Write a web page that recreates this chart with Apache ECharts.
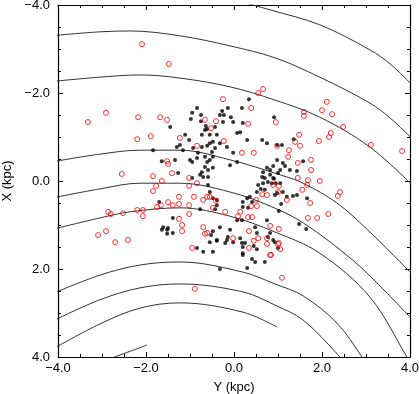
<!DOCTYPE html>
<html>
<head>
<meta charset="utf-8">
<script src="https://cdn.jsdelivr.net/npm/echarts@6/dist/echarts.min.js"></script>
<style>
html,body{margin:0;padding:0;background:#fff;}
#chart{width:419px;height:394px;}
</style>
</head>
<body>
<div id="chart"></div>
<script>
// Axis ticks (kpc)
var xTicks = [-4, -2, 0, 2, 4];
var yTicks = [-4, -2, 0, 2, 4];

// Arcs: [Y (kpc), X (kpc)]
var arc1 = [[0.2,-4.07],[0.43,-4.0],[0.82,-3.89],[1.95,-3.55],[3.09,-2.98],[3.55,-2.66],[4.05,-2.18]];
var arc2 = [[-4.05,-3.31],[-3.05,-3.39],[-2.36,-3.41],[-1.23,-3.30],[-0.09,-3.07],[0.93,-2.80],[1.95,-2.36],[3.09,-1.77],[3.55,-1.43],[4.05,-0.96]];
var arc3 = [[-4.05,-2.27],[-3.05,-2.36],[-2.14,-2.41],[-1.23,-2.34],[-0.09,-2.14],[0.93,-1.84],[1.95,-1.45],[3.09,-0.77],[4.05,0.09]];
var arc4 = [[-4.05,-0.45],[-3.05,-0.61],[-2.14,-0.70],[-1.23,-0.70],[-0.09,-0.48],[1.05,-0.14],[1.57,0.05],[2.34,0.5],[3.09,1.16],[4.05,2.12]];
var arc5 = [[-4.05,0.37],[-3.05,0.18],[-2.14,0.05],[-1.23,0.05],[-0.09,0.25],[0.82,0.57],[1.57,0.95],[2.70,1.80],[3.48,2.55],[4.05,3.15]];
var arc6 = [[-4.05,1.08],[-3.05,0.84],[-2.36,0.70],[-1.23,0.61],[-0.09,0.80],[0.93,1.16],[1.95,1.64],[3.09,2.64],[3.93,4.0],[3.98,4.1]];
var arc7 = [[-4.05,2.53],[-3.05,2.14],[-2.14,1.91],[-1.23,1.84],[0.20,2.07],[0.93,2.34],[1.57,2.61],[2.34,3.23],[2.91,4.0],[2.95,4.1]];
var arc8 = [[-4.05,3.15],[-3.05,2.70],[-2.14,2.43],[-1.23,2.34],[0.20,2.52],[0.93,2.82],[1.57,3.16],[2.41,4.0],[2.46,4.1]];
var arc9 = [[-4.05,3.78],[-3.05,3.25],[-2.14,2.89],[-1.23,2.77],[0.20,2.98],[0.98,3.32]];
var arc10 = [[-2.77,4.02],[-1.98,3.73]];

// Open red circles: [Y, X]
var redPoints = [
[-3.32,-1.34],[-2.91,-1.55],[-2.18,-1.45],[-2.09,-3.11],[-1.48,-2.66],[-1.68,-1.45],[-1.52,-1.39],
[-0.25,-1.86],[0.55,-2.0],[0.66,-2.09],[0.39,-1.66],[-0.66,-1.39],[-0.41,-1.36],[-0.52,-1.20],
[0.32,-1.30],[0.95,-1.34],[2.11,-1.80],[2.0,-1.61],[2.23,-1.52],[1.59,-1.57],[1.59,-1.48],
[2.48,-1.23],[3.11,-0.82],[3.82,-0.68],[2.20,-1.09],[2.16,-1.0],[1.93,-0.91],[1.48,-1.05],
[1.39,-0.89],[1.5,-0.80],[1.25,-0.70],[1.23,-0.55],[1.75,-0.48],[1.45,-0.41],[1.75,-0.25],
[1.45,-0.07],[1.68,-0.02],[1.95,0],[1.66,0.09],[1.55,0.20],[0.89,0.09],[1.02,0.11],[1.0,0.25],
[1.20,0.43],[2.41,0.25],[2.36,0.34],[1.73,0.5],[1.68,0.84],[1.89,0.84],[2.14,0.75],[0.82,1.02],
[1.02,1.09],[1.0,1.43],[1.05,1.55],[0.84,1.68],[1.09,2.20],[-2.20,-0.95],[-1.89,-1.02],
[-1.23,-0.98],[-0.84,-0.80],[-1.52,-0.45],[-1.5,-0.39],[-1.84,-0.11],[-1.41,-0.18],[-1.64,0],
[-1.77,0.11],[-1.84,0.23],[-1.02,-0.07],[-1.02,0.11],[-0.84,0.05],[-0.23,-0.91],[0.18,-0.64],
[0.45,-0.64],[0.98,-0.80],[-0.91,0.36],[-1.25,0.36],[-1.5,0.48],[-1.39,0.55],[-1.25,0.52],
[-1.66,0.55],[-1.75,0.59],[-2.20,0.66],[-2.07,0.66],[-2.07,0.80],[-1.02,0.55],[-0.70,0.43],
[-0.61,0.36],[-0.55,0.36],[-0.41,0.45],[-0.48,0.61],[-0.20,0.70],[0.14,0.70],[0.39,0.57],
[0.52,0.57],[0.5,0.43],[0.64,0.30],[0.75,0.32],[0.09,0.80],[0.32,0.82],[0.41,0.82],[-1.25,0.86],
[-1.02,0.75],[-1.18,1.0],[-1.18,1.14],[-0.70,1.05],[-0.61,1.18],[-0.02,1.30],[0.34,1.52],
[0.55,1.30],[0.75,1.30],[1.02,1.41],[-0.95,1.52],[-0.66,1.20],[0.34,1.14],[0.45,1.36],
[0.75,1.43],[0.82,1.68],[-0.89,2.45],[-2.55,-0.16],[-2.86,0.70],[-2.80,0.75],[-2.52,0.73],
[-3.09,1.23],[-2.91,1.14],[-2.70,1.39],[-2.41,1.34]
];

// Filled black dots: [Y, X]
var blackPoints = [
[0.34,-1.86],[-0.84,-1.66],[-0.95,-1.55],[-0.75,-1.5],[-0.14,-1.66],[-0.27,-1.59],[-0.32,-1.5],
[-0.23,-1.5],[0.18,-1.66],[0.91,-1.45],[-0.07,-1.45],[-0.98,-1.41],[-0.75,-1.36],[-0.64,-1.25],
[-0.25,-1.34],[-0.02,-1.34],[0.20,-1.32],[-1.45,-1.23],[-0.61,-1.18],[-0.43,-1.23],[-0.66,-1.16],
[-0.73,-1.05],[-0.55,-1.05],[-0.39,-1.05],[0.07,-1.09],[0.14,-1.11],[0.75,-0.86],[0.64,-0.93],
[0.30,-0.93],[-1.11,-1.05],[-1.02,-0.93],[-1.23,-0.82],[-1.30,-0.77],[-1.16,-0.70],[-0.93,-0.75],
[-0.82,-0.64],[-0.73,-0.77],[-0.61,-0.80],[-0.55,-0.86],[-0.48,-0.89],[-0.32,-0.86],[-0.43,-0.75],
[-0.5,-0.66],[-0.66,-0.55],[-0.84,-0.52],[-0.95,-0.43],[-0.61,-0.43],[-0.55,-0.48],[-0.48,-0.55],
[-0.66,-0.32],[-0.73,-0.20],[-0.59,-0.25],[-0.48,-0.30],[-0.70,-0.09],[-0.77,-0.14],[-0.59,-0.09],
[-0.59,0.09],[-0.55,0.25],[-1.0,-0.48],[-0.09,-0.36],[0.07,-0.43],[-0.16,-0.77],[-0.02,-0.64],
[-1.34,-0.48],[-1.27,-0.18],[-0.95,-0.07],[-1.64,-0.45],[-1.70,0.48],[-1.84,-0.70],
[0.66,-0.20],[0.75,-0.30],[0.82,-0.25],[0.64,-0.09],[0.70,-0.07],[0.82,-0.14],[0.89,-0.07],
[0.77,0.02],[0.66,0.05],[0.55,0.09],[0.86,0.05],[1.0,-0.18],[0.61,0.18],[0.52,0.25],[0.70,0.20],
[0.30,0.39],[0.36,0.36],[0.41,0.48],[0.20,0.48],[0.20,0.59],[0.32,0.61],[0.18,0.89],[0.07,0.89],
[-0.39,0.43],[-0.48,0.39],[-0.39,0.55],[-0.43,0.64],[-0.77,0.64],[-1.39,0.84],[-1.61,1.05],
[-1.5,1.07],[-1.52,1.11],[-1.64,1.11],[-1.39,1.18],[-0.32,1.05],[-0.09,1.11],[-0.14,1.27],
[-0.16,1.34],[-0.02,1.39],[-0.39,1.34],[-0.52,1.23],[-0.55,1.39],[0.20,1.5],[0.48,1.05],
[0.52,1.18],[0.82,1.18],[1.0,1.52],[0.89,1.34],[0.75,0.89],[-0.84,1.52],
[0.98,-0.82],[1.09,-0.82],[1.36,-0.95],[1.57,-0.45],[0.98,-0.48],[0.89,-0.34],[1.11,-0.41],
[1.16,-0.34],[1.27,-0.25],[1.43,-0.23],[1.05,-0.25],[0.91,-0.05],[0.95,0.05],[1.05,0.05],
[0.98,0.27],[1.11,0.25],[0.93,0.32],[1.20,0.36],[1.34,0.34],[1.43,0.32],[1.66,0.39],[1.07,0.52],
[1.02,0.68],[1.48,0.98],[1.64,1.09],[0.93,1.39],
[-1.52,1.20],[-0.48,1.14],[-0.39,1.36],[-0.20,1.41],[0.14,1.30],[0.18,1.41],[0.25,1.41],
[0.20,1.64],[0.20,1.68],[0.45,1.48],[0.52,1.55],[0.77,1.27],[-0.70,1.61],[-0.48,1.61],
[0.41,1.77],[0.48,1.84],[0.70,1.84],[0.30,1.98],[-0.32,2.0]
];

var FONT = '"Liberation Sans", Arial, Helvetica, sans-serif';
function fmt(v) {
  var s = Math.abs(v).toFixed(1);
  return (v < 0 ? '\u2212' : '') + s;
}

var chart = echarts.init(document.getElementById('chart'), null, {renderer: 'canvas'});

function arcSeries(d) {
  return {
    type: 'line', data: d, xAxisIndex: 0, yAxisIndex: 0,
    smooth: 0.35, symbol: 'none', clip: true, silent: true,
    lineStyle: {color: '#333', width: 1}, z: 2
  };
}

var baseAxisLine = {show: true, onZero: false, lineStyle: {color: '#000', width: 1.2}};
var tick = {show: true, inside: true, length: 5, lineStyle: {color: '#000', width: 1}};
var minor = {show: true, splitNumber: 4, length: 3, lineStyle: {color: '#000', width: 1}};

var option = {
  animation: false,
  backgroundColor: '#fff',
  grid: {left: 58, right: 9, top: 5, bottom: 37, containLabel: false, outerBoundsMode: 'none'},
  xAxis: [
    {
      type: 'value', min: xTicks[0], max: xTicks[xTicks.length - 1], interval: 2,
      position: 'bottom',
      axisLine: baseAxisLine, axisTick: tick, minorTick: minor,
      splitLine: {show: false}, minorSplitLine: {show: false},
      axisLabel: {formatter: fmt, color: '#000', fontSize: 13, fontFamily: FONT, margin: 5},
      name: 'Y (kpc)', nameLocation: 'middle', nameGap: 24,
      nameTextStyle: {color: '#000', fontSize: 13, fontFamily: FONT}
    },
    {
      type: 'value', min: xTicks[0], max: xTicks[xTicks.length - 1], interval: 2,
      position: 'top',
      axisLine: baseAxisLine, axisTick: tick, minorTick: minor,
      splitLine: {show: false}, axisLabel: {show: false}
    }
  ],
  yAxis: [
    {
      type: 'value', min: yTicks[0], max: yTicks[yTicks.length - 1], interval: 2, inverse: true,
      position: 'left',
      axisLine: baseAxisLine, axisTick: tick, minorTick: minor,
      splitLine: {show: false}, minorSplitLine: {show: false},
      axisLabel: {formatter: fmt, color: '#000', fontSize: 13, fontFamily: FONT, margin: 8},
      name: 'X (kpc)', nameLocation: 'middle', nameGap: 43, nameRotate: 90,
      nameTextStyle: {color: '#000', fontSize: 13, fontFamily: FONT}
    },
    {
      type: 'value', min: yTicks[0], max: yTicks[yTicks.length - 1], interval: 2, inverse: true,
      position: 'right',
      axisLine: baseAxisLine, axisTick: tick, minorTick: minor,
      splitLine: {show: false}, axisLabel: {show: false}
    }
  ],
  series: [
    arcSeries(arc1), arcSeries(arc2), arcSeries(arc3), arcSeries(arc4), arcSeries(arc5),
    arcSeries(arc6), arcSeries(arc7), arcSeries(arc8), arcSeries(arc9), arcSeries(arc10),
    {
      type: 'scatter', data: blackPoints, xAxisIndex: 0, yAxisIndex: 0,
      symbol: 'circle', symbolSize: 4, silent: true, z: 3,
      itemStyle: {color: '#000'}
    },
    {
      type: 'scatter', data: redPoints, xAxisIndex: 0, yAxisIndex: 0,
      symbol: 'circle', symbolSize: 5, silent: true, z: 4,
      itemStyle: {color: 'rgba(255,255,255,0)', borderColor: '#ff0000', borderWidth: 1}
    }
  ]
};
chart.setOption(option);
</script>
</body>
</html>
